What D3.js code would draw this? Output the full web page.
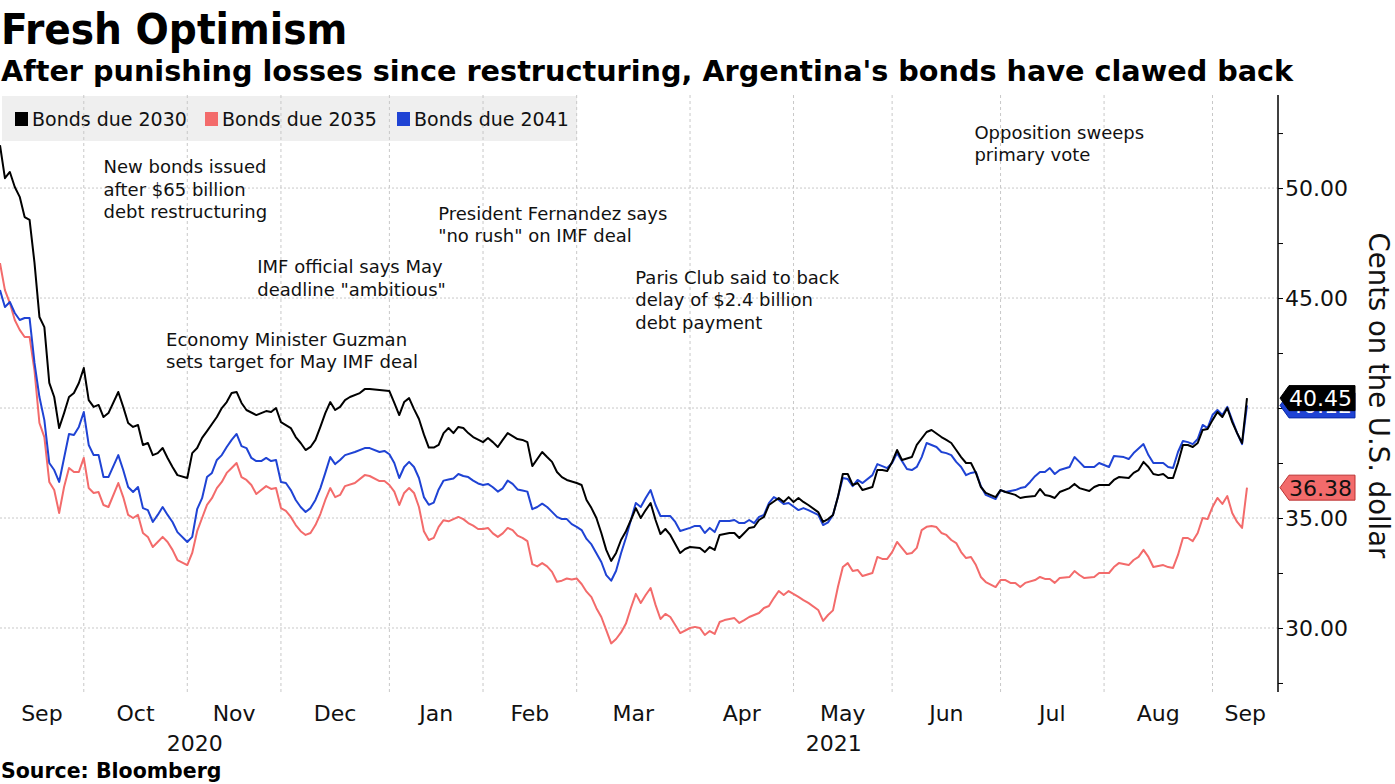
<!DOCTYPE html>
<html><head><meta charset="utf-8">
<script src="https://cdn.jsdelivr.net/npm/d3@7"></script>
<style>
body{margin:0;background:#fff;}
svg{display:block;}
text{font-family:'DejaVu Sans','Verdana',sans-serif;}
text.title{font-family:'DejaVu Sans Condensed','DejaVu Sans',sans-serif;}
</style>
</head><body>
<svg id="chart" width="1395" height="784"></svg>
<script>
// ---------------- DATA ----------------
const titleText = "Fresh Optimism";
const subtitleText = "After punishing losses since restructuring, Argentina's bonds have clawed back";
const sourceText = "Source: Bloomberg";
const axisTitle = "Cents on the U.S. dollar";
const seriesNames = ["Bonds due 2030", "Bonds due 2035", "Bonds due 2041"];
const seriesColors = ["#000000", "#f36b6b", "#1f43d4"];
const firstDay = "2020-09-08";
const lastDay = "2021-09-13";
const marketHolidays = ["2020-10-12","2020-11-11","2020-11-26","2020-12-25","2021-01-01","2021-01-18",
  "2021-02-15","2021-04-02","2021-05-31","2021-07-05","2021-09-06"];
const yTicks = [30, 35, 40, 45, 50];
const yMinorTicks = [27.5, 32.5, 37.5, 42.5, 47.5, 52.5];
const yDomain = [27.09, 54.23];

// [trading session since issuance, price]
const bonds2030 = [[0,51.95],[1,50.45],[2,50.73],[3,50.05],[4,49.6],[5,48.68],[6,48.55],[7,46.6],[8,44.14],[9,43.68],[10,41.14],[11,40.5],[12,39.09],[13,39.77],[14,40.5],[15,40.68],[16,41.14],[17,41.82],[18,40.36],[19,40.05],[20,40.14],[21,39.59],[22,39.77],[24,40.73],[25,40.05],[26,39.32],[27,39.14],[28,39.23],[29,38.32],[30,38.41],[31,37.86],[32,37.95],[33,38.18],[34,37.73],[35,37.32],[36,36.95],[38,36.82],[39,37.95],[40,38.18],[41,38.64],[42,38.95],[44,39.59],[45,40.0],[46,40.27],[47,40.68],[48,40.73],[49,40.23],[50,39.91],[52,39.68],[53,39.77],[54,39.86],[55,39.82],[56,40.0],[57,39.36],[59,39.09],[60,38.68],[61,38.41],[62,38.09],[63,38.23],[64,38.55],[65,39.14],[66,39.77],[67,40.27],[68,39.91],[69,40.05],[70,40.36],[71,40.5],[73,40.68],[74,40.86],[75,40.86],[77,40.82],[79,40.77],[80,40.23],[81,39.68],[82,40.27],[83,40.45],[84,39.95],[85,39.5],[86,38.8],[87,38.2],[88,38.2],[89,38.32],[90,38.86],[91,39.09],[92,38.86],[93,39.14],[94,39.09],[95,38.86],[96,38.68],[98,38.45],[99,38.64],[100,38.45],[101,38.23],[102,38.55],[103,38.86],[105,38.59],[106,38.55],[107,38.45],[108,37.36],[110,38.0],[111,37.77],[112,37.55],[113,37.09],[114,36.86],[115,36.73],[117,36.59],[118,36.5],[119,35.82],[120,35.45],[121,35.0],[122,34.32],[123,33.55],[124,33.05],[125,33.41],[126,34.0],[127,34.4],[128,34.91],[129,35.45],[130,35.0],[131,35.36],[132,35.68],[133,34.91],[134,34.27],[135,34.5],[136,34.23],[138,33.41],[139,33.59],[140,33.68],[142,33.64],[143,33.45],[144,33.68],[145,33.55],[146,34.23],[148,34.32],[149,34.32],[150,34.09],[151,34.32],[152,34.55],[153,34.59],[154,34.91],[155,35.05],[156,35.59],[158,35.91],[159,35.73],[160,35.95],[161,35.73],[162,35.91],[163,35.73],[164,35.59],[166,35.27],[167,34.82],[168,34.95],[169,35.14],[170,35.95],[171,37.0],[172,37.0],[173,36.5],[174,36.59],[175,36.27],[177,36.41],[178,37.18],[179,37.18],[180,37.14],[181,37.55],[182,38.09],[183,37.64],[185,37.77],[186,38.32],[188,38.91],[189,39.0],[191,38.68],[192,38.55],[193,38.41],[194,38.09],[195,37.77],[196,37.5],[197,37.5],[198,37.05],[199,36.41],[200,36.14],[202,35.95],[203,36.27],[204,36.18],[206,36.05],[207,35.91],[208,35.95],[210,36.0],[211,36.32],[212,36.05],[213,36.0],[214,35.91],[215,36.18],[217,36.36],[218,36.55],[219,36.36],[221,36.23],[222,36.41],[223,36.5],[225,36.5],[226,36.73],[227,36.86],[229,36.82],[230,37.05],[231,37.18],[232,37.55],[233,37.32],[234,37.0],[235,36.95],[236,37.0],[237,36.82],[238,36.82],[239,37.5],[240,38.32],[241,38.32],[242,38.23],[243,38.41],[244,39.0],[245,39.05],[246,39.45],[247,39.82],[248,39.59],[249,40.0],[250,39.36],[251,38.86],[252,38.41],[253,40.45]];

const bonds2035 = [[0,46.59],[1,45.36],[2,44.77],[3,44.0],[4,43.55],[5,43.23],[6,43.23],[7,41.7],[8,39.32],[9,38.68],[10,36.64],[11,36.27],[12,35.23],[13,36.41],[14,37.27],[15,37.09],[16,37.09],[17,37.73],[18,36.36],[19,36.14],[20,36.18],[21,35.59],[22,35.5],[24,36.59],[25,35.95],[26,35.14],[27,35.0],[28,35.14],[29,34.32],[30,34.14],[31,33.68],[32,33.91],[33,34.14],[34,33.91],[35,33.55],[36,33.09],[38,32.86],[39,33.41],[40,34.4],[41,35.0],[42,35.6],[43,35.9],[44,36.36],[45,36.64],[46,37.05],[47,37.27],[48,37.5],[49,36.86],[50,36.73],[51,36.5],[52,36.09],[53,36.27],[54,36.45],[55,36.32],[56,36.36],[57,35.45],[58,35.32],[59,35.05],[60,34.68],[61,34.4],[62,34.23],[63,34.32],[64,34.68],[65,35.18],[66,35.82],[67,36.36],[68,35.95],[69,36.05],[70,36.45],[72,36.59],[74,36.95],[75,36.91],[77,36.68],[78,36.68],[79,36.5],[80,36.2],[81,35.59],[82,36.14],[83,36.36],[84,36.14],[85,35.5],[86,34.4],[87,34.0],[88,34.1],[89,34.6],[90,34.9],[91,34.85],[92,34.95],[93,35.05],[94,34.95],[95,34.77],[96,34.65],[97,34.5],[98,34.5],[99,34.55],[100,34.3],[101,34.14],[102,34.3],[103,34.55],[104,34.45],[105,34.2],[106,34.1],[107,33.95],[108,32.9],[109,32.8],[110,32.95],[111,32.8],[112,32.55],[113,32.1],[114,32.15],[115,32.25],[116,32.2],[117,32.25],[118,32.0],[119,31.65],[120,31.4],[121,30.9],[122,30.5],[123,29.9],[124,29.3],[125,29.5],[126,29.8],[127,30.2],[128,30.91],[129,31.55],[130,31.14],[131,31.5],[132,31.82],[133,31.05],[134,30.41],[135,30.64],[136,30.5],[138,29.77],[140,30.0],[141,30.05],[142,30.0],[143,29.68],[144,29.86],[145,29.73],[146,30.27],[147,30.36],[149,30.45],[150,30.23],[151,30.36],[152,30.5],[153,30.59],[154,30.68],[155,30.91],[156,31.0],[157,31.36],[158,31.68],[159,31.5],[160,31.68],[162,31.41],[163,31.27],[164,31.14],[166,30.82],[167,30.32],[168,30.59],[169,30.8],[170,31.86],[171,32.77],[172,32.95],[173,32.59],[174,32.64],[175,32.36],[177,32.5],[178,33.23],[179,33.14],[180,33.14],[181,33.45],[182,33.91],[184,33.36],[185,33.41],[186,33.64],[187,34.45],[188,34.6],[189,34.64],[190,34.59],[191,34.32],[192,34.23],[193,34.0],[194,33.86],[195,33.45],[196,33.18],[197,33.23],[198,32.86],[199,32.32],[200,32.09],[202,31.86],[203,32.18],[204,32.18],[205,32.05],[206,32.05],[207,31.86],[208,32.05],[210,32.18],[211,32.32],[212,32.23],[213,32.23],[214,32.05],[215,32.27],[217,32.32],[218,32.59],[219,32.41],[220,32.27],[222,32.32],[223,32.5],[225,32.5],[226,32.77],[227,32.95],[229,32.86],[230,33.09],[231,33.23],[232,33.55],[233,33.23],[234,32.77],[236,32.86],[237,32.77],[238,32.73],[239,33.32],[240,34.09],[241,34.09],[242,33.95],[243,34.32],[244,35.0],[245,34.95],[246,35.5],[247,35.91],[248,35.64],[249,36.0],[250,35.23],[251,34.82],[252,34.55],[253,36.38]];

const bonds2041 = [[0,45.36],[1,44.59],[2,44.82],[3,44.32],[4,44.0],[5,44.09],[6,44.09],[7,42.05],[8,40.5],[9,39.45],[10,37.5],[11,37.18],[12,36.64],[13,37.73],[14,38.82],[15,38.77],[16,39.14],[17,39.82],[18,38.32],[19,37.86],[20,37.86],[21,36.86],[22,36.86],[24,37.86],[25,37.18],[26,36.41],[27,36.18],[28,36.41],[29,35.45],[30,35.36],[31,34.82],[32,35.14],[33,35.5],[34,35.14],[35,34.82],[36,34.36],[38,33.91],[39,34.14],[40,35.4],[41,35.9],[42,36.86],[43,37.05],[44,37.64],[45,37.86],[46,38.23],[47,38.55],[48,38.82],[49,38.27],[50,38.18],[51,37.73],[52,37.59],[53,37.59],[54,37.73],[55,37.59],[56,37.64],[57,36.64],[58,36.59],[59,36.27],[60,35.82],[61,35.5],[62,35.27],[63,35.45],[64,35.82],[65,36.36],[66,37.05],[67,37.77],[68,37.45],[69,37.64],[70,37.86],[72,38.0],[74,38.18],[75,38.18],[77,38.0],[78,38.05],[79,37.9],[80,37.5],[81,36.82],[82,37.32],[83,37.55],[84,37.32],[85,36.82],[86,35.95],[87,35.6],[88,35.7],[89,36.3],[90,36.7],[91,36.75],[92,36.8],[93,37.0],[94,36.91],[95,36.86],[96,36.7],[97,36.57],[98,36.5],[99,36.55],[100,36.4],[101,36.2],[102,36.35],[103,36.7],[104,36.55],[105,36.3],[106,36.25],[107,36.2],[108,35.4],[109,35.5],[110,35.65],[111,35.5],[112,35.28],[113,35.05],[114,34.95],[115,34.95],[116,34.72],[117,34.6],[118,34.45],[119,34.05],[120,33.8],[121,33.4],[122,33.0],[123,32.4],[124,32.15],[125,32.6],[126,33.4],[127,34.1],[128,34.91],[129,35.68],[130,35.5],[131,35.91],[132,36.27],[133,35.59],[134,35.09],[136,35.09],[137,34.82],[138,34.41],[140,34.55],[141,34.64],[142,34.64],[143,34.32],[144,34.55],[145,34.36],[146,34.86],[148,34.86],[149,34.91],[150,34.77],[151,34.77],[152,34.91],[153,34.77],[154,35.05],[155,35.14],[156,35.68],[157,35.95],[158,35.82],[159,35.64],[160,35.68],[162,35.36],[163,35.45],[164,35.36],[166,35.14],[167,34.68],[168,34.8],[169,35.14],[170,35.95],[171,36.82],[172,36.77],[173,36.45],[174,36.73],[175,36.59],[177,36.95],[178,37.45],[179,37.36],[180,37.27],[181,37.5],[182,37.95],[184,37.23],[185,37.18],[186,37.32],[187,37.77],[188,38.41],[190,38.23],[191,38.0],[192,37.95],[193,37.86],[194,37.55],[195,37.32],[196,36.95],[197,37.05],[198,37.09],[199,36.45],[200,36.05],[202,35.86],[203,36.27],[204,36.18],[206,36.27],[207,36.36],[208,36.41],[209,36.64],[210,36.9],[211,37.09],[212,37.09],[213,37.27],[214,37.0],[215,37.18],[217,37.32],[218,37.77],[219,37.55],[220,37.32],[222,37.32],[223,37.5],[225,37.32],[226,37.82],[228,37.77],[229,37.68],[230,37.95],[232,38.36],[233,37.86],[234,37.5],[236,37.5],[237,37.32],[238,37.27],[239,38.0],[240,38.5],[241,38.45],[242,38.36],[243,38.59],[244,39.23],[245,39.09],[246,39.68],[247,39.91],[248,39.68],[249,40.05],[250,39.45],[251,38.86],[252,38.36],[253,40.12]];

// annotations anchored at [session, price]
const annotationText = [
  ["New bonds issued", "after $65 billion", "debt restructuring"],
  ["IMF official says May", "deadline \"ambitious\""],
  ["Economy Minister Guzman", "sets target for May IMF deal"],
  ["President Fernandez says", "\"no rush\" on IMF deal"],
  ["Paris Club said to back", "delay of $2.4 billion", "debt payment"],
  ["Opposition sweeps", "primary vote"]
];
const annotationAnchor = [[21, 50.68], [52.2, 46.13], [33.7, 42.82], [88.9, 48.55], [128.9, 45.64], [197.7, 52.24]];

// ---------------- LAYOUT ----------------
const plot = {left: 0, right: 1278, top: 95, bottom: 692};
const svg = d3.select("#chart");

// trading calendar
const parse = d3.timeParse("%Y-%m-%d");
const fmt = d3.timeFormat("%Y-%m-%d");
const holidaySet = new Set(marketHolidays);
const sessions = d3.timeDays(parse(firstDay), d3.timeDay.offset(parse(lastDay), 1))
  .filter(d => d.getDay() !== 0 && d.getDay() !== 6 && !holidaySet.has(fmt(d)));
const lastIdx = sessions.length - 1;

const x = d3.scaleLinear().domain([0, lastIdx]).range([0, 1247]);
const y = d3.scaleLinear().domain(yDomain).range([plot.bottom, plot.top]);

// month boundaries (first session of each month)
const monthStarts = [];
sessions.forEach((d, i) => { if (i > 0 && d.getMonth() !== sessions[i - 1].getMonth()) monthStarts.push(i); });
const boundaryX = [plot.left, ...monthStarts.map(i => x(i)), plot.right];
const monthNames = [sessions[0], ...monthStarts.map(i => sessions[i])];

// legend background
const legendG = svg.append("g");
legendG.append("rect").attr("x", 2).attr("y", 96).attr("width", 575).attr("height", 45).attr("fill", "#efefef");

// grid
const grid = svg.append("g");
grid.selectAll("line.h").data(yTicks).join("line")
  .attr("x1", plot.left).attr("x2", plot.right)
  .attr("y1", d => y(d)).attr("y2", d => y(d))
  .attr("stroke", "#c8c8c8").attr("stroke-width", 1).attr("stroke-dasharray", "2,2");
grid.selectAll("line.v").data(monthStarts).join("line")
  .attr("x1", d => x(d)).attr("x2", d => x(d))
  .attr("y1", plot.top).attr("y2", plot.bottom)
  .attr("stroke", "#c8c8c8").attr("stroke-width", 1).attr("stroke-dasharray", "3,3");

// legend items
const legendX = [15, 205, 397];
seriesNames.forEach((name, i) => {
  legendG.append("rect").attr("x", legendX[i]).attr("y", 112).attr("width", 13).attr("height", 14).attr("fill", seriesColors[i]);
  legendG.append("text").attr("x", legendX[i] + 17).attr("y", 126).attr("font-size", 19).attr("fill", "#111").text(name);
});

// lines
const line = d3.line().x(d => x(d[0])).y(d => y(d[1]));
const allSeries = [bonds2035, bonds2041, bonds2030];
const drawColors = [seriesColors[1], seriesColors[2], seriesColors[0]];
allSeries.forEach((s, i) => {
  svg.append("path").datum(s).attr("d", line).attr("fill", "none")
    .attr("stroke", drawColors[i]).attr("stroke-width", 2).attr("stroke-linejoin", "round");
});

// right axis
const axisG = svg.append("g").attr("transform", `translate(${plot.right},0)`);
axisG.call(d3.axisRight(y).tickValues(yTicks).tickFormat(d3.format(".2f")).tickSize(5).tickSizeOuter(0).tickPadding(2));
axisG.select(".domain").remove();
axisG.selectAll("text").attr("font-size", 22).attr("fill", "#111");
axisG.selectAll(".tick line").attr("stroke", "#000");
const minorG = svg.append("g").attr("transform", `translate(${plot.right},0)`);
minorG.call(d3.axisRight(y).tickValues(yMinorTicks).tickFormat("").tickSize(5).tickSizeOuter(0));
minorG.select(".domain").remove();
svg.append("line").attr("x1", plot.right).attr("x2", plot.right).attr("y1", plot.top).attr("y2", plot.bottom)
  .attr("stroke", "#000").attr("stroke-width", 1.5);

// axis title
svg.append("text").attr("transform", `translate(1369,${(plot.top + plot.bottom) / 2 + 2}) rotate(90)`)
  .attr("text-anchor", "middle").attr("font-size", 27.5).attr("fill", "#111").text(axisTitle);

// month labels
const monthFmt = d3.timeFormat("%b");
svg.selectAll("text.month").data(monthNames).join("text")
  .attr("x", (d, i) => (boundaryX[i] + boundaryX[i + 1]) / 2)
  .attr("y", 721).attr("text-anchor", "middle").attr("font-size", 22).attr("fill", "#111")
  .text(d => monthFmt(d));
// year labels
const yearStarts = monthStarts.filter(i => sessions[i].getMonth() === 0);
const yearBounds = [plot.left, ...yearStarts.map(i => x(i)), plot.right];
const yearNames = [sessions[0].getFullYear(), ...yearStarts.map(i => sessions[i].getFullYear())];
svg.selectAll("text.year").data(yearNames).join("text")
  .attr("x", (d, i) => (yearBounds[i] + yearBounds[i + 1]) / 2)
  .attr("y", 751).attr("text-anchor", "middle").attr("font-size", 22).attr("fill", "#111")
  .text(d => d);

// annotations
annotationText.forEach((lines, i) => {
  const t = svg.append("text").attr("x", x(annotationAnchor[i][0])).attr("y", y(annotationAnchor[i][1]))
    .attr("font-size", 18).attr("fill", "#111");
  lines.forEach((l, j) => t.append("tspan").attr("x", x(annotationAnchor[i][0])).attr("dy", j === 0 ? 0 : 22.5).text(l));
});

// end labels
function endLabel(series, fill, textColor, stroke) {
  const last = series[series.length - 1];
  const cy = y(last[1]);
  const x0 = plot.right + 2, w = 75, h = 25;
  const g = svg.append("g");
  g.append("path").attr("d", `M${x0},${cy} L${x0 + 9},${cy - h / 2} L${x0 + w},${cy - h / 2} L${x0 + w},${cy + h / 2} L${x0 + 9},${cy + h / 2} Z`)
    .attr("fill", fill).attr("stroke", stroke).attr("stroke-width", 1);
  g.append("text").attr("x", x0 + w - 3).attr("y", cy + 8).attr("text-anchor", "end")
    .attr("font-size", 22).attr("fill", textColor).text(d3.format(".2f")(last[1]));
}
endLabel(bonds2041, seriesColors[2], "#fff", "#0a2aa8");
endLabel(bonds2035, seriesColors[1], "#111", "#b33");
endLabel(bonds2030, "#000", "#fff", "#000");

// titles
svg.append("text").attr("class", "title").attr("x", 1).attr("y", 44).attr("font-size", 43.5).attr("font-weight", "bold")
  .attr("fill", "#000").text(titleText);
svg.append("text").attr("x", 1).attr("y", 81).attr("font-size", 28.7).attr("font-weight", "bold").attr("fill", "#000").text(subtitleText);
svg.append("text").attr("x", 1).attr("y", 778).attr("font-size", 20.5).attr("font-weight", "bold").attr("fill", "#000").text(sourceText);
</script>
</body></html>
